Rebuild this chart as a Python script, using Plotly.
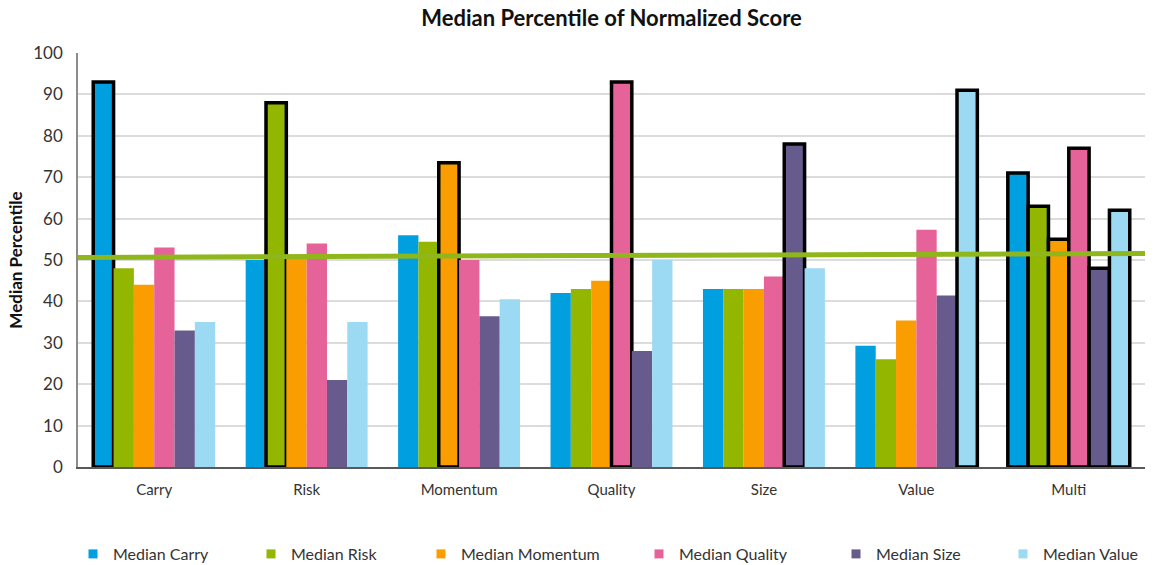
import plotly.graph_objects as go

categories = ["Carry", "Risk", "Momentum", "Quality", "Size", "Value", "Multi"]

series_names = ["Median Carry", "Median Risk", "Median Momentum",
                "Median Quality", "Median Size", "Median Value"]

median_carry    = [93, 50, 56, 42, 43, 29.3, 71]
median_risk     = [48, 88, 54.4, 43, 43, 26, 63]
median_momentum = [44, 51, 73.5, 45, 43, 35.4, 55]
median_quality  = [53, 54, 50, 93, 46, 57.3, 77]
median_size     = [33, 21, 36.4, 28, 78, 41.4, 48]
median_value    = [35, 35, 40.5, 50, 48, 91, 62]

series_values = [median_carry, median_risk, median_momentum,
                 median_quality, median_size, median_value]

# reference line (overall median), start and end values
ref_line_x = [0, 1]
ref_line_y = [50.6, 51.6]

y_ticks = [0, 10, 20, 30, 40, 50, 60, 70, 80, 90, 100]

colors = ["#009fdf", "#93b700", "#f99d00", "#e66399", "#665b8c", "#9cd9f3"]

W, H = 1154, 565
ML, MR, MT, MB = 78, 9, 53, 98
plot_w = W - ML - MR
plot_h = H - MT - MB

fig = go.Figure()

for i, (name, vals) in enumerate(zip(series_names, series_values)):
    factor = name.replace("Median ", "")
    lw = [3.5 if (cat == factor or cat == "Multi") else 0 for cat in categories]
    fig.add_trace(go.Bar(
        x=categories, y=vals, name=name,
        marker=dict(color=colors[i], line=dict(color="#000000", width=lw)),
        showlegend=False,
    ))

# green reference line on an overlay axis spanning to the right edge
fig.add_trace(go.Scatter(
    x=ref_line_x, y=ref_line_y, mode="lines",
    line=dict(color="#8fb61a", width=5),
    xaxis="x2", yaxis="y", showlegend=False, cliponaxis=False,
    hoverinfo="skip",
))

# legend entries, each in its own legend for placement
legend_px = [73, 251, 421, 639, 836, 1003]
layout_legends = {}
for i, name in enumerate(series_names):
    key = "legend" if i == 0 else f"legend{i+1}"
    fig.add_trace(go.Scatter(
        x=[None], y=[None], mode="markers", name=name,
        marker=dict(symbol="square", size=9, color=colors[i]),
        legend=key, showlegend=True,
    ))
    layout_legends[key] = dict(
        x=legend_px[i] / W, xref="container", xanchor="left",
        y=1 - 554 / H, yref="container", yanchor="middle",
        orientation="h", bgcolor="rgba(0,0,0,0)",
        font=dict(family="Lato", size=16, color="#333333"),
        itemwidth=30, tracegroupgap=0,
    )

fig.update_layout(
    width=W, height=H,
    margin=dict(l=ML, r=MR, t=MT, b=MB, autoexpand=False),
    paper_bgcolor="white", plot_bgcolor="white",
    barmode="group", bargap=0.2, bargroupgap=0,
    title=dict(text="<b>Median Percentile of Normalized Score</b>",
               x=0.5, xref="paper", xanchor="center",
               y=1 - 18 / H, yanchor="middle",
               font=dict(family="Lato", size=22, color="#111111")),
    xaxis=dict(
        type="category", showgrid=False, showline=True,
        linecolor="#595959", linewidth=2, ticks="",
        tickfont=dict(family="Lato", size=15, color="#333333"),
        ticklabelstandoff=8,
    ),
    xaxis2=dict(
        overlaying="x", range=[0, plot_w / (W - ML)], visible=False,
        fixedrange=True,
    ),
    yaxis=dict(
        range=[0, 100], tickvals=y_ticks, showgrid=True,
        gridcolor="#dcdcdc", gridwidth=1.5, showline=True,
        linecolor="#8c8c8c", linewidth=1.5, zeroline=False,
        tickfont=dict(family="Lato", size=17, color="#333333"),
        ticklabelstandoff=10,
        title=dict(text="<b>Median Percentile</b>",
                   font=dict(family="Lato", size=17, color="#111111"),
                   standoff=6),
    ),
    **layout_legends,
)

fig.write_html("out.html")
